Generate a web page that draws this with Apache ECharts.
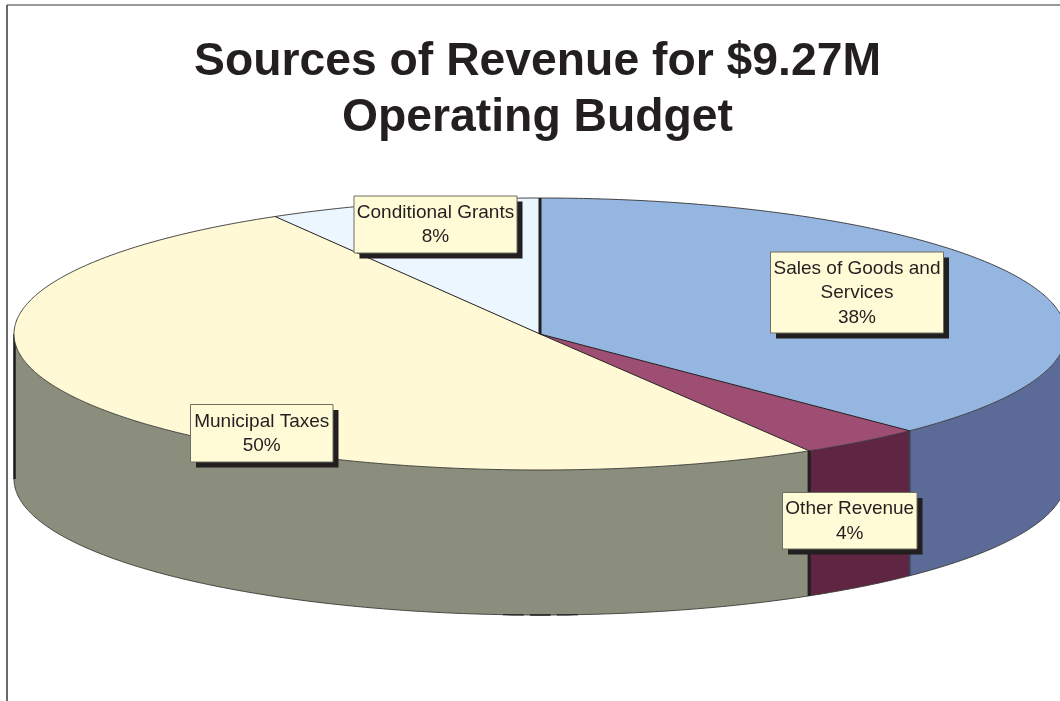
<!DOCTYPE html>
<html>
<head>
<meta charset="utf-8">
<style>html,body{margin:0;padding:0;background:#fff;overflow:hidden}#c{width:1060px;height:701px}</style>
<script src="https://cdn.jsdelivr.net/npm/echarts@6/dist/echarts.min.js"></script>
</head>
<body>
<div id="c"></div>
<script>
// Data (share of the budget, clockwise from 12 o'clock)
const categories = ['Sales of Goods and\nServices', 'Other Revenue', 'Municipal Taxes', 'Conditional Grants'];
const shares = [37.6, 3.85, 50.15, 8.4];

// Styles and layout
const topColors = ['#95b6e0', '#9f4e73', '#fffad5', '#ebf6ff'];
const wallColors = ['#5b6a97', '#5f2542', '#8c8e7d', '#8c8e7d'];
const startEdgeTop = [[3, '#231f20'], [1, '#231f20'], [1, '#231f20'], [1, '#231f20']];
const startEdgeWall = [[0, ''], [2, '#3c4156'], [3.2, '#231f20'], [0, '']];
const labelBoxes = [[770.5, 252, 173, 81], [782.5, 492.5, 134.5, 56.5], [190.5, 404.5, 142.5, 57.5], [354, 196, 163, 57]];
const CX = 540, CY = 334, RX = 526, RY = 136, DEPTH = 145;

const total = shares.reduce((a, b) => a + b, 0);
const starts = [];
shares.reduce((sum, v, i) => { starts[i] = sum / total * Math.PI * 2; return sum + v; }, 0);
const angleEnd = i => starts[i] + shares[i] / total * Math.PI * 2;
const pt = (a, dy) => [CX + RX * Math.sin(a), CY - RY * Math.cos(a) + (dy || 0)];
function arc(a0, a1, dy) {
  const n = Math.max(2, Math.ceil((a1 - a0) * 120));
  const out = [];
  for (let k = 0; k <= n; k++) out.push(pt(a0 + (a1 - a0) * k / n, dy));
  return out;
}

function renderWall(params) {
  const i = params.dataIndex;
  const children = [];
  const a0 = Math.max(starts[i], Math.PI / 2), a1 = Math.min(angleEnd(i), Math.PI * 1.5);
  if (a1 > a0) {
    const upper = arc(a0, a1, 0), lower = arc(a0, a1, DEPTH);
    children.push({ type: 'polygon', shape: { points: upper.concat(lower.slice().reverse()) },
      style: { fill: wallColors[i], stroke: null } });
    children.push({ type: 'polyline', shape: { points: lower }, style: { fill: null, stroke: '#3a3a36', lineWidth: 0.9 } });
    if (a1 === Math.PI * 1.5) {
      const p = pt(a1, 0);
      children.push({ type: 'line', shape: { x1: p[0] + 0.5, y1: p[1], x2: p[0] + 0.5, y2: p[1] + DEPTH },
        style: { stroke: '#231f20', lineWidth: 2.6 } });
    }
    if (a0 < Math.PI && a1 > Math.PI) {
      children.push({ type: 'polyline', shape: { points: arc(Math.PI - 0.072, Math.PI + 0.072, DEPTH) },
        style: { fill: null, stroke: '#231f20', lineWidth: 1.3, lineDash: [21, 6] } });
    }
  }
  const e = startEdgeWall[i];
  if (e[0]) {
    const p = pt(starts[i], 0);
    children.push({ type: 'line', shape: { x1: p[0], y1: p[1], x2: p[0], y2: p[1] + DEPTH },
      style: { stroke: e[1], lineWidth: e[0] } });
  }
  return { type: 'group', children };
}

function renderTop(params) {
  const i = params.dataIndex;
  const rim = arc(starts[i], angleEnd(i), 0);
  return { type: 'group', children: [
    { type: 'polygon', shape: { points: [[CX, CY]].concat(rim) }, style: { fill: topColors[i], stroke: null } },
    { type: 'polyline', shape: { points: rim }, style: { fill: null, stroke: '#333', lineWidth: 0.9 } }
  ] };
}

function renderEdge(params) {
  const i = params.dataIndex;
  const edge = startEdgeTop[i], p = pt(starts[i], 0);
  return { type: 'line', shape: { x1: CX, y1: CY, x2: p[0], y2: p[1] }, style: { stroke: edge[1], lineWidth: edge[0] } };
}

function renderLabel(params, api) {
  const i = params.dataIndex;
  const b = labelBoxes[i];
  return { type: 'group', children: [
    { type: 'rect', shape: { x: b[0] + 5.5, y: b[1] + 5.5, width: b[2], height: b[3] }, style: { fill: '#231f20' } },
    { type: 'rect', shape: { x: b[0], y: b[1], width: b[2], height: b[3] }, style: { fill: '#fffbd6', stroke: '#6e6e62', lineWidth: 1 } },
    { type: 'text', style: { text: categories[i] + '\n' + Math.round(api.value(0)) + '%',
        x: b[0] + b[2] / 2, y: b[1] + b[3] / 2 + 0.5, align: 'center', verticalAlign: 'middle',
        font: '19px "Liberation Sans", Arial, sans-serif', lineHeight: 24.5, fill: '#231f20' } }
  ] };
}

const seriesData = shares.map(v => [v]);
const base = { type: 'custom', coordinateSystem: 'none', data: seriesData, silent: true, animation: false, clip: false };
const chart = echarts.init(document.getElementById('c'), null, { renderer: 'canvas' });
chart.setOption({
  animation: false,
  backgroundColor: '#ffffff',
  tooltip: { show: false },
  title: {
    text: 'Sources of Revenue for $9.27M\nOperating Budget',
    left: 532.5, top: 29, textAlign: 'center',
    textStyle: { fontFamily: '"Liberation Sans", Arial, sans-serif', fontWeight: 'bold', fontSize: 46.3, lineHeight: 56, color: '#231f20' }
  },
  graphic: [
    { type: 'line', shape: { x1: 7, y1: 5, x2: 1060, y2: 5 }, style: { stroke: '#333', lineWidth: 1.2 } },
    { type: 'line', shape: { x1: 7, y1: 5, x2: 7, y2: 701 }, style: { stroke: '#444', lineWidth: 1.6 } }
  ],
  series: [
    Object.assign({}, base, { name: 'walls', z: 2, renderItem: renderWall }),
    Object.assign({}, base, { name: 'tops', z: 3, renderItem: renderTop }),
    Object.assign({}, base, { name: 'edges', z: 4, renderItem: renderEdge }),
    Object.assign({}, base, { name: 'labels', z: 5, renderItem: renderLabel })
  ]
});
</script>
</body>
</html>
